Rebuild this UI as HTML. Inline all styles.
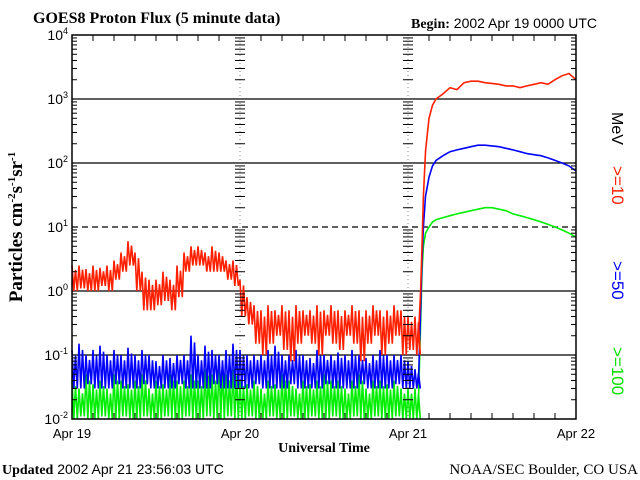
<!DOCTYPE html>
<html><head><meta charset="utf-8"><style>
html,body{margin:0;padding:0;background:#fff;}
svg{display:block;}
text{font-family:"Liberation Sans",sans-serif;}
.serif{font-family:"Liberation Serif",serif;font-weight:bold;}
.serifn{font-family:"Liberation Serif",serif;font-weight:normal;}
</style></head><body>
<svg id="chart" width="640" height="480" xmlns="http://www.w3.org/2000/svg">
<text class="serif" x="33" y="23" font-size="16">GOES8 Proton Flux (5 minute data)</text>
<text x="411" y="28" font-size="14"><tspan class="serif">Begin:</tspan> 2002 Apr 19 0000 UTC</text>
<text x="2" y="474" font-size="14"><tspan class="serif">Updated</tspan> 2002 Apr 21 23:56:03 UTC</text>
<text class="serifn" x="638" y="474" font-size="15" text-anchor="end">NOAA/SEC Boulder, CO USA</text>
<text class="serif" x="324" y="452" font-size="14" text-anchor="middle">Universal Time</text>
<text class="serif" transform="translate(22,227) rotate(-90)" font-size="19" text-anchor="middle">Particles cm<tspan dy="-7" font-size="11">-2</tspan><tspan dy="7">s</tspan><tspan dy="-7" font-size="11">-1</tspan><tspan dy="7">sr</tspan><tspan dy="-7" font-size="11">-1</tspan></text>
<text transform="translate(612,112) rotate(90)" font-size="16" fill="#000">MeV</text>
<text transform="translate(612,166) rotate(90)" font-size="17" fill="#ff2000">&gt;=10</text>
<text transform="translate(612,261) rotate(90)" font-size="17" fill="#0000ff">&gt;=50</text>
<text transform="translate(612,347) rotate(90)" font-size="17" fill="#00e000">&gt;=100</text>
<g id="grid"></g><g id="series"></g><g id="axes"></g>
</svg>
<script>
// hourly envelope (hi/lo) for Apr19 00h .. Apr21 01h (50 hours)
const redHi=[2.5,2.5,2.2,2.5,2.3,2.5,3,4,6,4,2,1.5,1.5,2,1.5,2.5,4,5,5,4,5,4,3,3,1.5,0.8,0.6,0.5,0.6,0.5,0.6,0.5,0.6,0.5,0.5,0.6,0.5,0.6,0.5,0.5,0.6,0.5,0.5,0.6,0.5,0.5,0.6,0.5,0.4,0.4];
const redLo=[1,1.1,1,1,1.2,1,1.5,2,2.5,1,0.5,0.5,0.6,0.7,0.5,0.8,2,2.5,2.5,2,2,2,1.5,1.2,0.4,0.3,0.15,0.1,0.15,0.2,0.12,0.08,0.15,0.2,0.15,0.1,0.2,0.15,0.12,0.2,0.15,0.08,0.15,0.2,0.1,0.15,0.2,0.1,0.12,0.1];
const blueHi=[0.12,0.15,0.1,0.12,0.14,0.1,0.12,0.1,0.13,0.1,0.12,0.1,0.08,0.1,0.09,0.1,0.1,0.2,0.1,0.14,0.12,0.1,0.12,0.15,0.12,0.1,0.1,0.1,0.12,0.14,0.1,0.1,0.12,0.1,0.09,0.12,0.1,0.1,0.11,0.1,0.12,0.1,0.09,0.1,0.12,0.1,0.1,0.1,0.08,0.06];
const blueLo=[0.03,0.03,0.035,0.03,0.03,0.03,0.035,0.03,0.03,0.03,0.035,0.03,0.03,0.03,0.03,0.035,0.03,0.03,0.03,0.03,0.035,0.03,0.03,0.03,0.03,0.03,0.035,0.03,0.03,0.03,0.03,0.035,0.03,0.03,0.03,0.03,0.035,0.03,0.03,0.03,0.03,0.035,0.03,0.03,0.03,0.03,0.035,0.03,0.03,0.03];
const greenHi=[0.04,0.03,0.05,0.035,0.04,0.03,0.05,0.04,0.035,0.04,0.05,0.03,0.04,0.035,0.05,0.04,0.04,0.05,0.04,0.06,0.05,0.08,0.05,0.06,0.04,0.035,0.04,0.03,0.04,0.035,0.05,0.04,0.03,0.04,0.035,0.04,0.05,0.04,0.04,0.03,0.04,0.05,0.03,0.04,0.04,0.035,0.04,0.03,0.03,0.03];
const greenLo=[0.01,0.011,0.01,0.01,0.011,0.01,0.01,0.011,0.01,0.01,0.011,0.01,0.01,0.011,0.01,0.01,0.011,0.01,0.01,0.011,0.01,0.01,0.011,0.01,0.01,0.011,0.01,0.01,0.011,0.01,0.01,0.011,0.01,0.01,0.011,0.01,0.01,0.011,0.01,0.01,0.011,0.01,0.01,0.011,0.01,0.01,0.011,0.01,0.01,0.01];
// event on Apr21: hours after Apr21 00h
const evTimes=[1.5,1.8,2.0,2.2,2.5,3,3.5,4,5,6,7,8,9,10,11,12,13,14,15,16,17,18,19,20,21,22,23,24];
const evRed=[0.2,1,5,30,150,500,800,1000,1200,1500,1400,1800,1900,1900,1800,1750,1700,1600,1600,1500,1600,1700,1800,1700,2000,2300,2500,2000];
const evBlue=[0.04,0.5,3,10,30,60,90,110,130,150,160,170,180,190,190,185,180,170,160,150,140,135,130,120,110,100,90,75];
const evGreen=[0.02,0.3,2,5,8,10,12,13,14,15,16,17,18,19,20,20,19,18,16,15,14,13,12,11,10,9,8,7];
const dayLabels=["Apr 19","Apr 20","Apr 21","Apr 22"];
const decadeExps=[-2,-1,0,1,2,3,4];

const X0=72,X1=576,Y0=419,Y1=35;
function xs(h){return X0+(X1-X0)*h/72;}
function ys(v){const l=Math.log10(v);return Y0-(Y0-Y1)*(l+2)/6;}
const NS="http://www.w3.org/2000/svg";
function mk(tag,at,parent){const e=document.createElementNS(NS,tag);for(const k in at)e.setAttribute(k,at[k]);parent.appendChild(e);return e;}
const grid=document.getElementById('grid'),ser=document.getElementById('series'),ax=document.getElementById('axes');

decadeExps.forEach(ex=>{
  if(ex===-2||ex===4)return;
  const y=ys(Math.pow(10,ex));
  const l=mk('line',{x1:X0,x2:X1,y1:y,y2:y,stroke:'#000','stroke-width':1.2,'stroke-dasharray':ex===1?'6,4':'none'},grid);
  
  
});
[1,2].forEach(d=>{
  const x=xs(d*24);
  const l=mk('line',{x1:x,x2:x,y1:Y1,y2:Y0,stroke:'#666','stroke-width':0.8,'stroke-dasharray':'1,3'},grid);
  
  
});
function envPts(hi,lo){const p=[];for(let i=0;i<hi.length;i++){p.push([xs(i),ys(hi[i])]);p.push([xs(i+0.25),ys(lo[i])]);p.push([xs(i+0.5),ys(hi[i]*0.75+lo[i]*0.25)]);p.push([xs(i+0.75),ys(lo[i])]);}return p;}
function evPts(vals){return evTimes.map((t,i)=>[xs(48+t),ys(vals[i])]);}
function draw(hi,lo,ev,color,name){
  const pts=envPts(hi,lo).concat(evPts(ev));
  const p=mk('polyline',{points:pts.map(q=>q[0].toFixed(1)+','+q[1].toFixed(1)).join(' '),fill:'none',stroke:color,'stroke-width':1.6},ser);
  
  
}
draw(greenHi,greenLo,evGreen,'#00ee00','series-ge100');
draw(blueHi,blueLo,evBlue,'#0000ff','series-ge50');
draw(redHi,redLo,evRed,'#ff2000','series-ge10');

const box=mk('rect',{x:X0,y:Y1,width:X1-X0,height:Y0-Y1,fill:'none',stroke:'#000','stroke-width':1.5},ax);


for(let ex=-2;ex<4;ex++){for(let m=2;m<=9;m++){const y=ys(m*Math.pow(10,ex));const len=5;
  [[X0,1],[X1,-1],[xs(24),1],[xs(24),-1],[xs(48),1],[xs(48),-1]].forEach(([x,s])=>{mk('line',{x1:x,x2:x+s*len,y1:y,y2:y,stroke:'#000','stroke-width':1},ax);});}}
for(let h=3;h<72;h+=3){const x=xs(h);if(h%24!==0){mk('line',{x1:x,x2:x,y1:Y0,y2:Y0-6,stroke:'#000'},ax);mk('line',{x1:x,x2:x,y1:Y1,y2:Y1+6,stroke:'#000'},ax);}}
decadeExps.forEach(ex=>{
  const t=mk('text',{x:X0-4,y:ys(Math.pow(10,ex))+5,'font-size':14,'text-anchor':'end'},ax);
  
  
  t.textContent='10';
  const s=mk('tspan',{dy:-6,'font-size':9},t);s.textContent=String(ex);
});
dayLabels.forEach((d,i)=>{
  const t=mk('text',{x:xs(i*24),y:438,'font-size':13,'text-anchor':'middle'},ax);
  
  
  t.textContent=d;
});
</script>
</body></html>
